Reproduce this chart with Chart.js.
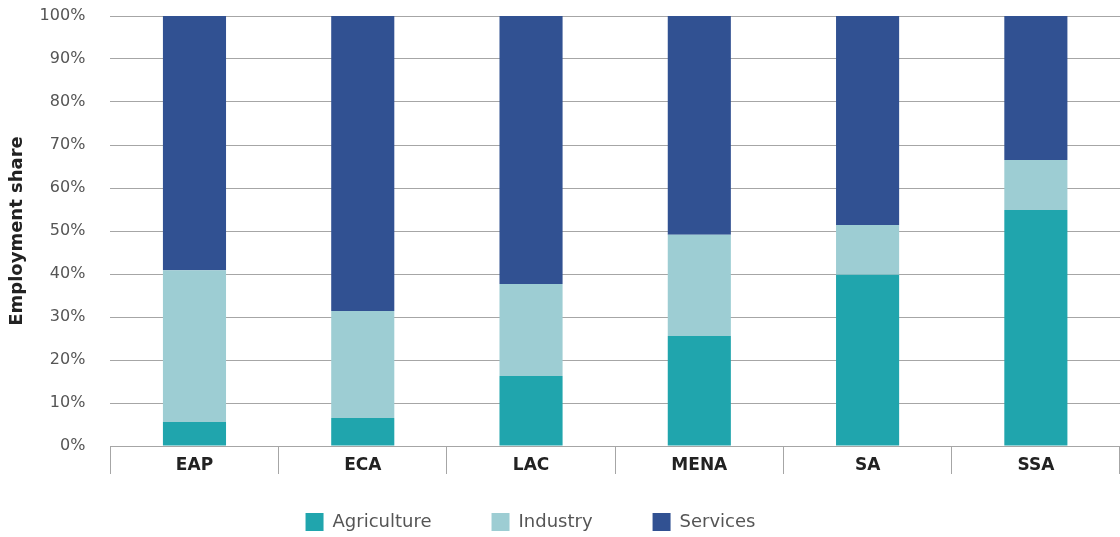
<!DOCTYPE html>
<html>
<head>
<meta charset="utf-8">
<script src="https://cdn.jsdelivr.net/npm/chart.js@4"></script>
<style>
  html, body { margin: 0; padding: 0; background: #fff; }
  #wrap { width: 1120px; height: 537px; }
</style>
</head>
<body>
<div id="wrap"><canvas id="chart"></canvas></div>
<script>
// Data (employment share, %)
const regions = ["EAP", "ECA", "LAC", "MENA", "SA", "SSA"];
const agriculture = [5.6, 6.5, 16.3, 25.6, 39.8, 54.9];
const industry = [35.3, 24.9, 21.4, 23.5, 11.6, 11.6];
const services = [59.1, 68.6, 62.3, 50.9, 48.6, 33.5];
const yTicks = [0, 10, 20, 30, 40, 50, 60, 70, 80, 90, 100];

const font = "'DejaVu Sans', sans-serif";
const gridColor = "#a6a6a6";
const legendPad = 60;

// category labels sit between the long tick marks under the axis
const xLabels = {
  id: "xLabels",
  afterDraw(chart) {
    const x = chart.scales.x;
    const ctx = chart.ctx;
    ctx.save();
    ctx.font = "bold 17px " + font;
    ctx.fillStyle = "#222";
    ctx.textAlign = "center";
    ctx.textBaseline = "middle";
    regions.forEach((r, i) => {
      ctx.fillText(r, x.getPixelForTick(i), x.top + 20);
    });
    ctx.restore();
  }
};

// keep wide gaps between legend items but a shorter legend box
const legendSpacing = {
  id: "legendSpacing",
  beforeLayout(chart) {
    const lg = chart.legend;
    if (lg && !lg._patched) {
      const fit = lg.fit;
      lg.fit = function () {
        fit.call(this);
        this.height = 59;
      };
      lg._patched = true;
    }
  },
  afterLayout(chart) {
    const lg = chart.legend;
    if (lg) {
      lg.top = 513 - legendPad;
      lg.left -= 33;
      lg.right -= 33;
    }
  }
};

new Chart(document.getElementById("chart"), {
  type: "bar",
  data: {
    labels: regions,
    datasets: [
      { label: "Agriculture", data: agriculture, backgroundColor: "#20a5ad" },
      { label: "Industry", data: industry, backgroundColor: "#9dcdd3" },
      { label: "Services", data: services, backgroundColor: "#315192" }
    ]
  },
  plugins: [xLabels, legendSpacing],
  options: {
    responsive: true,
    maintainAspectRatio: false,
    animation: false,
    layout: { padding: { top: 16, right: 0, bottom: 4, left: 7 } },
    datasets: { bar: { categoryPercentage: 1, barPercentage: 0.375 } },
    plugins: {
      tooltip: { enabled: false },
      legend: {
        position: "bottom",
        labels: {
          font: { family: font, size: 18 },
          color: "#555",
          boxWidth: 18,
          boxHeight: 18,
          padding: legendPad
        }
      }
    },
    scales: {
      x: {
        stacked: true,
        grid: {
          offset: true,
          drawOnChartArea: false,
          drawTicks: true,
          tickLength: 28,
          color: gridColor
        },
        border: { display: true, color: gridColor },
        ticks: { display: false }
      },
      y: {
        stacked: true,
        min: 0,
        max: 100,
        afterBuildTicks: (axis) => { axis.ticks = yTicks.map(v => ({ value: v })); },
        grid: { drawTicks: true, tickLength: 25, tickColor: "rgba(0,0,0,0)", color: gridColor },
        border: { display: false },
        ticks: {
          padding: 0,
          color: "#555",
          font: { family: font, size: 16 },
          callback: (v) => v + "%"
        },
        title: {
          display: true,
          text: "Employment share",
          color: "#222",
          padding: { top: 0, bottom: 11 },
          font: { family: font, size: 18, weight: "bold" }
        }
      }
    }
  }
});
</script>
</body>
</html>
